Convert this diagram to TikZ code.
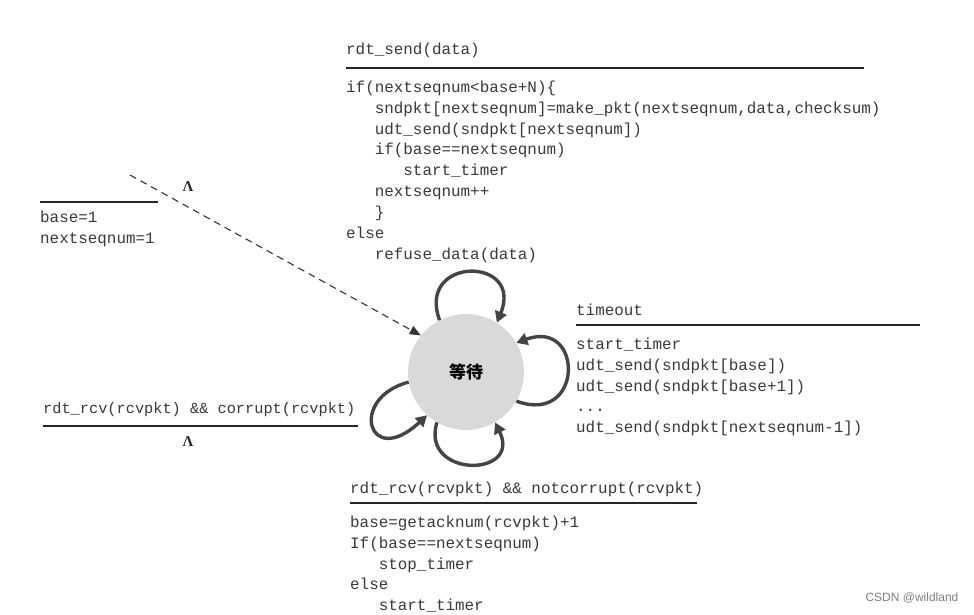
\documentclass[tikz,border=0pt]{standalone}
\usepackage{fontspec}
\setmainfont{Liberation Serif}
\newfontfamily\code{Liberation Mono}
\newfontfamily\cjk{Noto Sans CJK SC}
\newfontfamily\wm{Liberation Sans}
\usetikzlibrary{arrows.meta}
\definecolor{txt}{HTML}{3A3A3A}
\definecolor{loopc}{HTML}{444444}
\definecolor{statec}{HTML}{D9D9D9}
\tikzset{
  codeblock/.style={anchor=north west, inner sep=0pt, align=left, text=txt,
    font=\code\fontsize{15.9}{20.9}\selectfont},
  narrowcode/.style={codeblock, font=\code\fontsize{15.3}{20.9}\selectfont},
  rule/.style={line width=1.3pt, draw=black!85},
  selfloop/.style={line width=3.4pt, draw=loopc, -{Triangle[length=11pt,width=12pt]}},
  lam/.style={inner sep=0pt, text=black!85, font=\bfseries\fontsize{15}{15}\selectfont},
}
\newcommand{\ind}{\phantom{000}}
\begin{document}
\begin{tikzpicture}[x=1pt,y=-1pt]
\useasboundingbox (0,0) rectangle (974,614);
\fill[white] (0,0) rectangle (974,614);

% state
\node[circle, fill=statec, minimum size=116pt, inner sep=0pt] (w) at (466,372)
  {\cjk\bfseries\fontsize{17}{17}\selectfont 等待};

% initial transition
\coordinate (init) at (130,175);
\draw[line width=1.1pt, draw=black!80, dash pattern=on 7pt off 5pt,
  -{Triangle[length=11pt,width=9pt]}] (init) -- (w.141);
\node[lam] (l1) at (188,187) {Λ};
\draw[rule] (40,202) -- (158,202);
\node[codeblock] (initb) at (40,210.5) {base=1\\nextseqnum=1};

% top: rdt_send
\node[codeblock] (sendh) at (346,42.5) {rdt\_send(data)};
\draw[rule] (346,68) -- (864,68);
\node[codeblock] (sendb) at (346,80.5) {if(nextseqnum<base+N)\{\\
\ind sndpkt[nextseqnum]=make\_pkt(nextseqnum,data,checksum)\\
\ind udt\_send(sndpkt[nextseqnum])\\
\ind if(base==nextseqnum)\\
\ind\ind start\_timer\\
\ind nextseqnum++\\
\ind \}\\
else\\
\ind refuse\_data(data)};

% right: timeout
\node[codeblock] (toh) at (576,303.5) {timeout};
\draw[rule] (576,325) -- (920,325);
\node[codeblock] (tob) at (576,337.5) {start\_timer\\
udt\_send(sndpkt[base])\\
udt\_send(sndpkt[base+1])\\
...\\
udt\_send(sndpkt[nextseqnum-1])};

% left: corrupt
\node[narrowcode] (corh) at (43,402.5) {rdt\_rcv(rcvpkt) \&\& corrupt(rcvpkt)};
\draw[rule] (43,426) -- (358,426);
\node[lam] (l2) at (188,442) {Λ};

% bottom: notcorrupt
\node[codeblock] (ackh) at (350,481.5) {rdt\_rcv(rcvpkt) \&\& notcorrupt(rcvpkt)};
\draw[rule] (350,503) -- (697,503);
\node[codeblock] (ackb) at (350,515.5) {base=getacknum(rcvpkt)+1\\
If(base==nextseqnum)\\
\ind stop\_timer\\
else\\
\ind start\_timer};

% self loops
\draw[selfloop] (w.117) .. controls (416,256) and (524,256) .. (w.58);
\draw[selfloop] (w.-30) .. controls (584,426) and (584,318) .. (w.30);
\draw[selfloop] (w.-120) .. controls (420,478) and (522,478) .. (w.-60);
\draw[selfloop] (w.190) .. controls (348,398) and (368,470) .. (w.-132);

% watermark
\node[inner sep=0pt, text=black!50, font=\wm\fontsize{12}{12}\selectfont] (wm) at (912,598) {CSDN @wildland};
\end{tikzpicture}
\end{document}
